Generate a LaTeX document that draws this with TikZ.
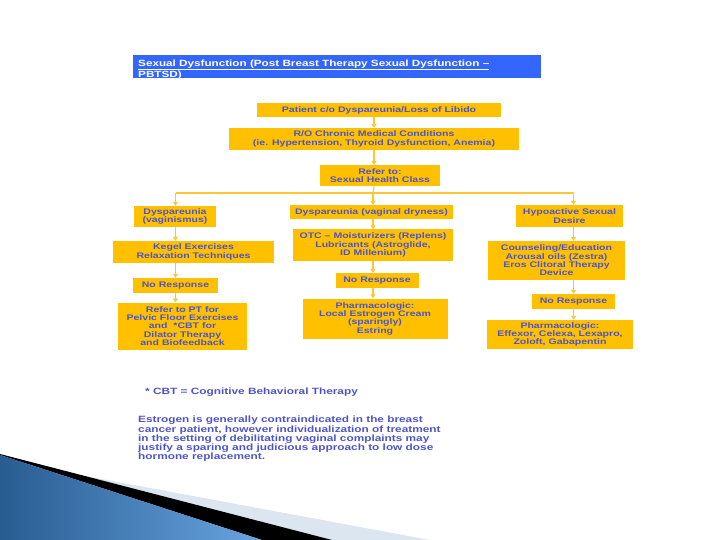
\documentclass[tikz,border=0pt]{standalone}
\usepackage{fontspec}
\setmainfont{Liberation Sans}[FakeStretch=1.3]
\usepackage{tikz}
\usetikzlibrary{arrows.meta}
\usepackage{xcolor}
\definecolor{boxorange}{RGB}{255,192,0}
\definecolor{lineorange}{RGB}{255,198,50}
\definecolor{txtblue}{RGB}{78,84,200}
\definecolor{barblue}{RGB}{51,102,255}
\definecolor{wedgedark}{RGB}{40,92,145}
\definecolor{wedgelight}{RGB}{105,165,225}
\definecolor{wedgegrey}{RGB}{220,230,240}

\begin{document}
\begin{tikzpicture}[x=1pt,y=-1pt,
    box/.style={fill=boxorange, text=txtblue, align=center, inner sep=0pt,
      font=\fontsize{8.1}{8.3}\selectfont\bfseries},
    note/.style={text=txtblue, inner sep=0pt, font=\fontsize{9.1}{9.3}\selectfont\bfseries},
    flow/.style={draw=lineorange, line width=1.1pt, -{Triangle[width=5pt,length=4pt]}}]
  \useasboundingbox (0,0) rectangle (720,540);
  % corner decoration
  \fill[wedgegrey] (80,475) -- (430,540) -- (330,540) -- cycle;
  \fill[black] (0,454) -- (332,540) -- (262,540) -- (0,455) -- cycle;
  \begin{scope}
    \clip (0,455) -- (262,540) -- (0,540) -- cycle;
    \shade[left color=wedgedark, right color=wedgelight] (0,450) rectangle (265,540);
  \end{scope}
  % title
  \fill[barblue] (133,55) rectangle (541,78);
  \node[anchor=north west, text=white, align=left, inner sep=0pt,
    font=\fontsize{9}{8.6}\selectfont\bfseries] (title) at (138,59.5)
    {\underline{Sexual Dysfunction (Post Breast Therapy Sexual Dysfunction --}\\\underline{PBTSD)}};
  % boxes
  \node[box, minimum width=244, minimum height=14] (patient) at (379,110) {Patient c/o Dyspareunia/Loss of Libido};
  \node[box, minimum width=290, minimum height=22] (rocmc) at (374,139) {R/O Chronic Medical Conditions\\(ie. Hypertension, Thyroid Dysfunction, Anemia)};
  \node[box, minimum width=120, minimum height=21] (refer) at (380,175.5) {Refer to:\\Sexual Health Class};
  \node[box, minimum width=82, minimum height=21] (vaginismus) at (175,216.5) {Dyspareunia\\(vaginismus)};
  \node[box, minimum width=163, minimum height=14] (dryness) at (371.5,212) {Dyspareunia (vaginal dryness)};
  \node[box, minimum width=107, minimum height=22] (hypo) at (569.5,216) {Hypoactive Sexual\\Desire};
  \node[box, minimum width=161, minimum height=22] (kegel) at (193.5,252) {Kegel Exercises\\Relaxation Techniques};
  \node[box, minimum width=160, minimum height=31] (otc) at (373,245) {OTC -- Moisturizers (Replens)\\Lubricants (Astroglide,\\ID Millenium)};
  \node[box, minimum width=137, minimum height=39] (counsel) at (556.5,260.5) {Counseling/Education\\Arousal oils (Zestra)\\Eros Clitoral Therapy\\Device};
  \node[box, minimum width=85, minimum height=15] (nrL) at (175.5,285.5) {No Response};
  \node[box, minimum width=83, minimum height=15] (nrM) at (377,280.5) {No Response};
  \node[box, minimum width=83, minimum height=15] (nrR) at (573.5,301.5) {No Response};
  \node[box, minimum width=129, minimum height=47] (ptL) at (182.5,326) {Refer to PT for\\Pelvic Floor Exercises\\and \ *CBT for\\Dilator Therapy\\and Biofeedback};
  \node[box, minimum width=145, minimum height=40] (pharmM) at (375,318.5) {Pharmacologic:\\Local Estrogen Cream\\(sparingly)\\Estring};
  \node[box, minimum width=146, minimum height=29] (pharmR) at (560,334.5) {Pharmacologic:\\Effexor, Celexa, Lexapro,\\Zoloft, Gabapentin};
  % connectors
  \coordinate (split) at (373,193);
  \draw[flow] (patient.south -| rocmc) -- (rocmc.north);
  \draw[flow] (rocmc.south) -- (refer.north -| rocmc);
  \draw[draw=lineorange, line width=1.1pt] (refer.south -| rocmc) -- (split);
  \draw[draw=lineorange, line width=1.1pt] (split -| nrL) -- (split -| nrR);
  \draw[flow] (split -| nrL) -- (vaginismus.north -| nrL);
  \draw[flow] (split) -- (dryness.north -| split);
  \draw[flow] (split -| nrR) -- (hypo.north -| nrR);
  \draw[flow] (vaginismus.south -| nrL) -- (kegel.north -| nrL);
  \draw[flow] (kegel.south -| nrL) -- (nrL.north);
  \draw[flow] (nrL.south) -- (ptL.north -| nrL);
  \draw[flow] (dryness.south -| split) -- (otc.north -| split);
  \draw[flow] (otc.south -| split) -- (nrM.north -| split);
  \draw[flow] (nrM.south -| split) -- (pharmM.north -| split);
  \draw[flow] (hypo.south -| nrR) -- (counsel.north -| nrR);
  \draw[flow] (counsel.south -| nrR) -- (nrR.north);
  \draw[flow] (nrR.south) -- (pharmR.north -| nrR);
  % notes
  \node[note, anchor=west] (cbt) at (145,392) {* CBT = Cognitive Behavioral Therapy};
  \node[note, anchor=north west, align=left] (estrogen) at (138,416)
    {Estrogen is generally contraindicated in the breast\\cancer patient, however individualization of treatment\\in the setting of debilitating vaginal complaints may\\justify a sparing and judicious approach to low dose\\hormone replacement.};
\end{tikzpicture}
\end{document}
